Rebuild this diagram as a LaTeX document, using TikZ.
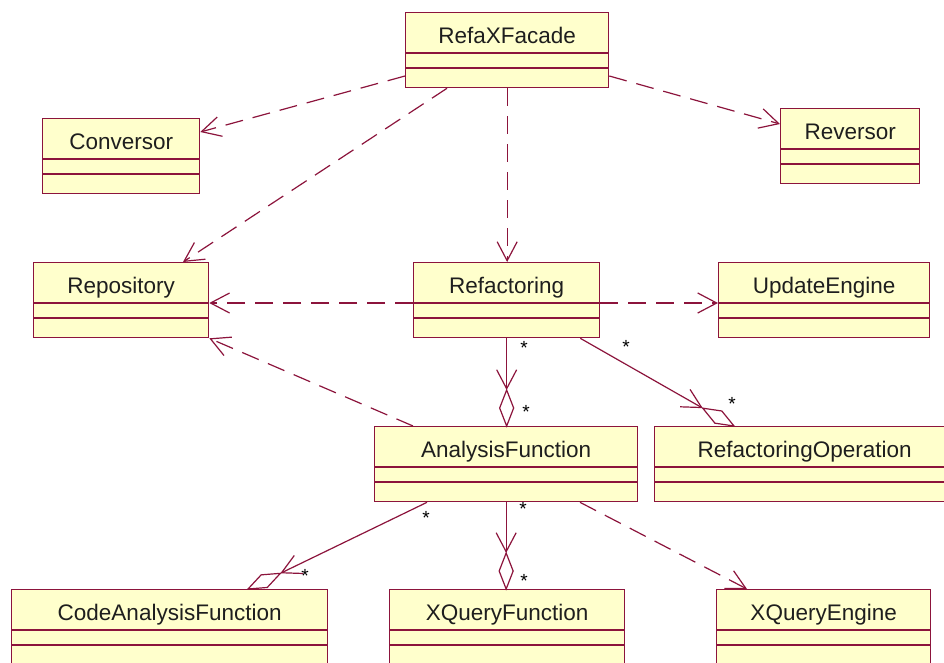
\documentclass[tikz,border=0pt]{standalone}
\usepackage{fontspec}
\setmainfont{Liberation Sans}
\usetikzlibrary{calc,arrows.meta}

\definecolor{roseline}{RGB}{140,20,60}
\definecolor{rosefill}{RGB}{255,255,204}
\definecolor{nametext}{RGB}{30,30,30}

\tikzset{
  classbox/.style={draw=roseline, fill=rosefill, line width=1.3pt, rectangle,
    inner sep=0pt, anchor=north west, minimum height=75pt},
  classname/.style={font=\fontsize{22.5}{27}\selectfont, text=nametext,
    inner sep=0pt, anchor=base},
  divider/.style={draw=roseline, line width=1.3pt},
  depend/.style={draw=roseline, line width=1.2pt, dash pattern=on 18pt off 10pt,
    -{Straight Barb[length=19pt,width=20pt]}},
  assoc/.style={draw=roseline, line width=1.2pt,
    -{Straight Barb[length=19pt,width=20pt]}},
  aggdiamond/.style={draw=roseline, line width=1.2pt, fill=white, line join=miter},
  mult/.style={font=\fontsize{19}{21}\selectfont, inner sep=0pt, anchor=north},
}

% class box: name, left x, top y, right x, class name
\newcommand\umlclass[5]{%
  \node[classbox, minimum width={#4-#2}] (#1) at (#2,#3) {};
  \draw[divider] ($(#1.north west)+(0,41)$) -- ($(#1.north east)+(0,41)$);
  \draw[divider] ($(#1.north west)+(0,56)$) -- ($(#1.north east)+(0,56)$);
  \node[classname] (#1-name) at ($(#1.north)+(0,31)$) {#5};
}

% navigable aggregation: source point, whole-end point, tag
\newcommand\aggline[3]{%
  \coordinate (#3p) at ($(#2)!36pt!(#1)$);
  \coordinate (#3m) at ($(#2)!18pt!(#1)$);
  \draw[assoc] (#1) -- (#3p);
  \draw[aggdiamond] (#2) -- ($(#3m)!7pt!90:(#3p)$) -- (#3p)
    -- ($(#3m)!7pt!-90:(#3p)$) -- cycle;
}

\begin{document}
\begin{tikzpicture}[x=1pt,y=-1pt]
\path[use as bounding box] (0,0) rectangle (944,662);
\clip (0,0) rectangle (944,662);
\fill[white] (0,0) rectangle (944,662);

% classes
\umlclass{refax}{405}{12}{608}{RefaXFacade}
\umlclass{conv}{42}{118}{199}{Conversor}
\umlclass{rev}{780}{108}{919}{Reversor}
\umlclass{repo}{33}{262}{208}{Repository}
\umlclass{refac}{413}{262}{599}{Refactoring}
\umlclass{upd}{718}{262}{929}{UpdateEngine}
\umlclass{anal}{374}{426}{637}{AnalysisFunction}
\umlclass{refop}{654}{426}{954}{RefactoringOperation}
\umlclass{code}{11}{589}{327}{CodeAnalysisFunction}
\umlclass{xqf}{389}{589}{624}{XQueryFunction}
\umlclass{xqe}{716}{589}{930}{XQueryEngine}

% dependencies
\draw[depend] ($(refax.north west)+(0,64)$) -- ($(conv.north east)+(0,14)$);
\draw[depend] ($(refax.south west)+(42,0)$) -- ($(repo.north west)+(150,0)$);
\draw[depend] (refax.south) -- (refax.south |- refac.north);
\draw[depend] ($(refax.north east)+(0,64)$) -- ($(rev.north west)+(0,16)$);
\draw[depend] ($(refac.north west)+(0,41)$) -- ($(repo.north east)+(0,41)$);
\draw[depend] ($(refac.north east)+(0,41)$) -- ($(upd.north west)+(0,41)$);
\draw[depend] ($(anal.north west)+(39,0)$) -- (repo.south east);
\draw[depend] ($(anal.south west)+(206,0)$) -- ($(xqe.north west)+(31,0)$);

% aggregations
\coordinate (s1) at (refac.south);
\coordinate (q1) at (refac.south |- anal.north);
\aggline{s1}{q1}{a}
\coordinate (s2) at ($(refac.south east)+(-20,0)$);
\coordinate (q2) at ($(refop.north west)+(80,0)$);
\aggline{s2}{q2}{b}
\coordinate (s3) at ($(anal.south west)+(53,0)$);
\coordinate (q3) at ($(code.north west)+(237,0)$);
\aggline{s3}{q3}{c}
\coordinate (s4) at (anal.south);
\coordinate (q4) at (anal.south |- xqf.north);
\aggline{s4}{q4}{d}

% multiplicities
\node[mult] (m1) at (524,341) {*};
\node[mult] (m2) at (526,405) {*};
\node[mult] (m3) at (626,340) {*};
\node[mult] (m4) at (732,397) {*};
\node[mult] (m5) at (426,511) {*};
\node[mult] (m6) at (305,569) {*};
\node[mult] (m7) at (523,502) {*};
\node[mult] (m8) at (524,574) {*};
\end{tikzpicture}
\end{document}
